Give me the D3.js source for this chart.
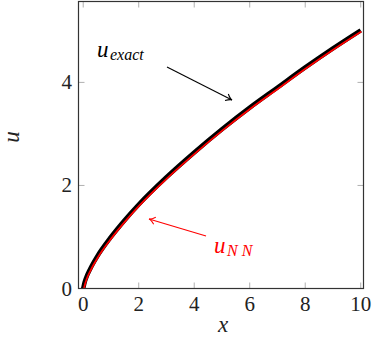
<!DOCTYPE html>
<html><head><meta charset="utf-8">
<script src="https://cdn.jsdelivr.net/npm/d3@7"></script>
</head>
<body style="margin:0">
<div style="position:absolute;left:-9999px;top:0;font-family:'Liberation Serif';font-size:20px">0248 <i>uxact NN</i></div>
<svg id="chart" width="373" height="337" style="display:block;background:#fff"></svg>
<script>
// Data
const xValues = [0, 0.05, 0.1, 0.25, 0.5, 1, 1.5, 2, 3, 4, 5, 6, 7, 8, 9, 10];
const uExact  = [0, 0.12, 0.2, 0.38, 0.62, 1.0, 1.33, 1.63, 2.16, 2.64, 3.09, 3.51, 3.9, 4.29, 4.66, 5.01];
const uNN     = [0, 0.11, 0.19, 0.37, 0.61, 0.99, 1.32, 1.62, 2.15, 2.63, 3.08, 3.50, 3.89, 4.28, 4.65, 5.00];
const xTicks = [0, 2, 4, 6, 8, 10];
const yTicks = [0, 2, 4];

const FONT = '"Liberation Serif"';
const svg = d3.select("#chart");
const L = 78.5, R = 363.5, T = 1.5, B = 288.5;
const x = d3.scaleLinear().domain([-0.17, 10.1]).range([L, R]);
const y = d3.scaleLinear().domain([0, 5.57]).range([B, T]);

function txt(px, py, str, size, italic, color, anchor) {
  return svg.append("text").attr("x", px).attr("y", py)
    .style("font-family", FONT).style("font-size", size + "px")
    .style("font-style", italic ? "italic" : "normal")
    .attr("fill", color).attr("text-anchor", anchor || "start").text(str);
}

// ticks (inner, gray) on all sides
const tickLen = 6, tickColor = "#b0b0b0";
xTicks.forEach(t => {
  svg.append("line").attr("x1", x(t)).attr("x2", x(t)).attr("y1", B).attr("y2", B - tickLen)
    .attr("stroke", tickColor).attr("stroke-width", 1);
  svg.append("line").attr("x1", x(t)).attr("x2", x(t)).attr("y1", T).attr("y2", T + tickLen)
    .attr("stroke", tickColor).attr("stroke-width", 1);
  txt(x(t), 311, String(t), 21, false, "#222", "middle");
});
yTicks.forEach(t => {
  svg.append("line").attr("x1", L).attr("x2", L + tickLen).attr("y1", y(t)).attr("y2", y(t))
    .attr("stroke", tickColor).attr("stroke-width", 1);
  svg.append("line").attr("x1", R).attr("x2", R - tickLen).attr("y1", y(t)).attr("y2", y(t))
    .attr("stroke", tickColor).attr("stroke-width", 1);
  txt(72, y(t) + 7, String(t), 21, false, "#222", "end");
});

// curves
const line = d3.line().curve(d3.curveMonotoneX);
const ptsE = xValues.map((v, i) => [x(v), y(uExact[i])]);
const ptsN = xValues.map((v, i) => [x(v), y(uNN[i])]);
svg.append("clipPath").attr("id", "clip").append("rect")
  .attr("x", L).attr("y", T).attr("width", R - L).attr("height", B - T);
svg.append("path").attr("d", line(ptsE)).attr("fill", "none").attr("stroke", "#000")
  .attr("stroke-width", 4.5).attr("clip-path", "url(#clip)");
svg.append("path").attr("d", line(ptsN)).attr("fill", "none").attr("stroke", "#ff0000")
  .attr("stroke-width", 1.8).attr("transform", "translate(0.6,0.6)").attr("clip-path", "url(#clip)");

// frame
svg.append("rect").attr("x", L).attr("y", T).attr("width", R - L).attr("height", B - T)
  .attr("fill", "none").attr("stroke", "#333").attr("stroke-width", 1.2);

// arrows
function arrow(x1, y1, x2, y2, color) {
  svg.append("line").attr("x1", x1).attr("y1", y1).attr("x2", x2).attr("y2", y2)
    .attr("stroke", color).attr("stroke-width", 1.1);
  const a = Math.atan2(y2 - y1, x2 - x1), s = 7, w = 0.55;
  const p = d3.path();
  p.moveTo(x2 - s * Math.cos(a - w), y2 - s * Math.sin(a - w));
  p.quadraticCurveTo(x2 - 2 * Math.cos(a), y2 - 2 * Math.sin(a), x2, y2);
  p.quadraticCurveTo(x2 - 2 * Math.cos(a), y2 - 2 * Math.sin(a), x2 - s * Math.cos(a + w), y2 - s * Math.sin(a + w));
  svg.append("path").attr("d", p.toString()).attr("fill", "none").attr("stroke", color).attr("stroke-width", 1.1);
}
arrow(167, 67, 232, 100, "#000");
arrow(206, 236, 149, 219, "#ff0000");

// annotations
txt(97, 57, "u", 23, true, "#000");
txt(110, 60, "exact", 16, true, "#000");
txt(214, 253, "u", 23, true, "#ff0000");
txt(227, 256, "N N", 16, true, "#ff0000");

// axis labels
txt(223, 332, "x", 23, true, "#222", "middle");
txt(0, 0, "u", 23, true, "#222", "middle").attr("transform", "translate(19,137) rotate(-90)");
</script>
</body></html>
